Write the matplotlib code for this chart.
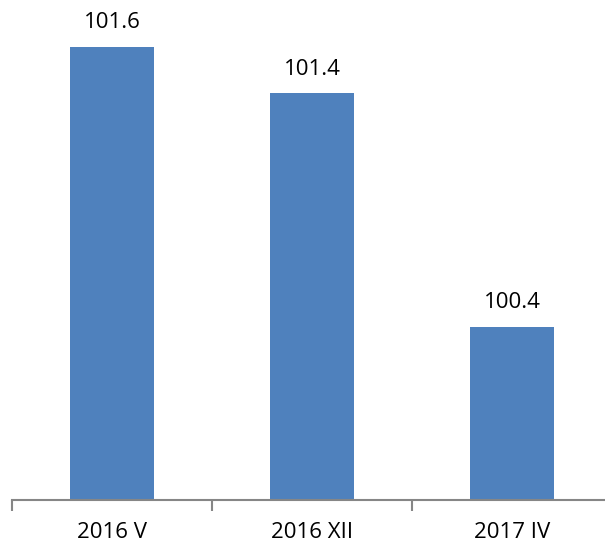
import matplotlib.pyplot as plt

periods = ["2016 V", "2016 XII", "2017 IV"]
values = [101.6, 101.4, 100.4]

BAR_COLOR = "#4F81BD"
AXIS_COLOR = "#868686"

plt.rcParams['font.family'] = ['Open Sans', 'DejaVu Sans']

fig = plt.figure(figsize=(6.05, 5.47), dpi=100)
ax = fig.add_axes([12 / 605, 47 / 547, 1 - 12 / 605, 500 / 547])

x = list(range(len(periods)))
bars = ax.bar(x, values, width=0.42, color=BAR_COLOR)

for xi, v in zip(x, values):
    ax.annotate(f"{v:.1f}", (xi, v), xytext=(0, 13.5), textcoords="offset points",
                ha="center", va="baseline", fontsize=16, color="black")

ax.set_ylim(99.66, 101.8)
ax.set_xlim(-0.5, 2.5 - 7 / 200)

# category separators as ticks
ax.set_xticks([-0.5, 0.5, 1.5], minor=False)
ax.set_xticklabels([])
ax.tick_params(axis="x", which="major", direction="out", length=8, width=1.5, color=AXIS_COLOR)
ax.set_xticks(x, minor=True)
ax.set_xticklabels(periods, minor=True, fontsize=16)
ax.tick_params(axis="x", which="minor", length=0, pad=16)

ax.set_yticks([])
for side in ["left", "right", "top"]:
    ax.spines[side].set_visible(False)
ax.spines["bottom"].set_color(AXIS_COLOR)
ax.spines["bottom"].set_linewidth(1.5)

fig.savefig("out.png", dpi=100)
